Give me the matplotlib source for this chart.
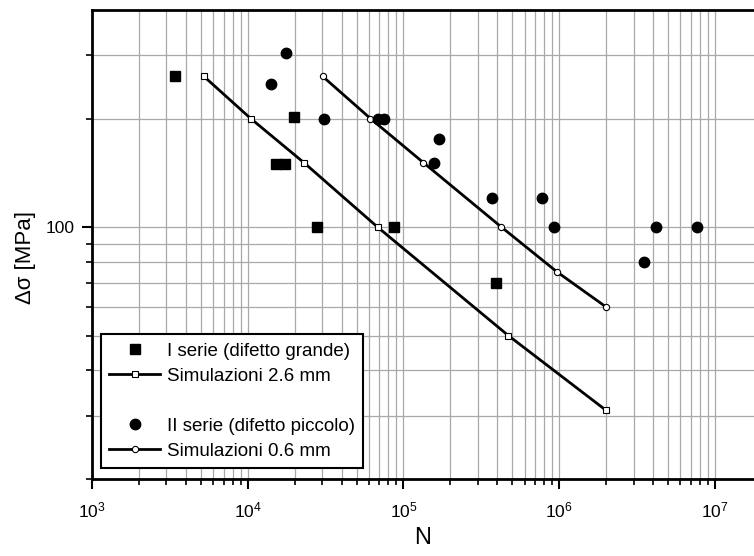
import matplotlib
matplotlib.use("Agg")
import matplotlib.pyplot as plt
from matplotlib.ticker import FixedLocator, NullFormatter, FuncFormatter, LogLocator
from matplotlib.lines import Line2D
import numpy as np

plt.rcParams['font.family'] = ['Liberation Sans', 'DejaVu Sans']
plt.rcParams['mathtext.default'] = 'regular'

# I serie (difetto grande)
n_serie1 = [3400, 19700, 15100, 17300, 27700, 87500, 394000]
s_serie1 = [263, 202, 150, 150, 100, 100, 70]

# II serie (difetto piccolo)
n_serie2 = [17500, 14200, 30700, 68100, 75500, 170000, 158000,
            372000, 778000, 929000, 4.19e6, 7.67e6, 3.51e6]
s_serie2 = [303, 250, 200, 200, 200, 176, 151, 120, 120, 100, 100, 100, 80]

# Simulazioni 2.6 mm
n_sim26 = [5220, 10450, 22900, 68100, 471000, 2.0e6]
s_sim26 = [262, 200, 151, 100, 50, 31]

# Simulazioni 0.6 mm
n_sim06 = [30200, 61400, 134000, 425000, 971000, 2.0e6]
s_sim06 = [262, 200, 151, 100, 75, 60]

fig = plt.figure(figsize=(7.54, 5.56), dpi=100)
ax = fig.add_axes([0.122, 0.1385, 0.878, 0.8435])

ax.plot(n_sim26, s_sim26, color='black', lw=2, marker='s', ms=4.5,
        mfc='white', mec='black', mew=0.8, zorder=3)
ax.plot(n_sim06, s_sim06, color='black', lw=2, marker='o', ms=4.5,
        mfc='white', mec='black', mew=0.8, zorder=3)
ax.plot(n_serie1, s_serie1, ls='none', marker='s', ms=7, color='black', zorder=4)
ax.plot(n_serie2, s_serie2, ls='none', marker='o', ms=7.5, color='black', zorder=4)

ax.set_xscale('log')
ax.set_yscale('log')
ax.set_xlim(1e3, 1.78e7)
ax.set_ylim(20, 400)

ax.yaxis.set_major_locator(FixedLocator([100]))
ax.yaxis.set_minor_locator(FixedLocator([20, 30, 40, 50, 60, 70, 80, 90, 200, 300]))
ax.yaxis.set_major_formatter(FuncFormatter(lambda v, p: '%d' % v))
ax.yaxis.set_minor_formatter(NullFormatter())

ax.xaxis.set_major_locator(LogLocator(base=10))
ax.xaxis.set_minor_locator(LogLocator(base=10, subs=np.arange(2, 10)))
ax.xaxis.set_major_formatter(FuncFormatter(lambda v, p: '$10^{%d}$' % round(np.log10(v))))
ax.xaxis.set_minor_formatter(NullFormatter())

ax.grid(True, which='both', color='#a8a8a8', lw=0.9)
ax.set_axisbelow(True)

for side in ['left', 'bottom', 'top']:
    ax.spines[side].set_linewidth(2)
ax.spines['right'].set_visible(False)

ax.tick_params(which='major', direction='out', length=7.5, width=1.5, labelsize=12.5, pad=5)
ax.tick_params(axis='x', which='major', pad=8)
ax.tick_params(which='minor', direction='out', length=4.5, width=1.2)

ax.set_xlabel('N', fontsize=17, labelpad=5)
ax.set_ylabel('Δσ [MPa]', fontsize=16)
ax.yaxis.set_label_coords(-0.085, 0.473)

handles = [
    Line2D([], [], ls='none', marker='s', ms=7, color='black'),
    Line2D([], [], color='black', lw=2, marker='s', ms=4.5, mfc='white', mec='black', mew=0.8),
    Line2D([], [], ls='none'),
    Line2D([], [], ls='none', marker='o', ms=7.5, color='black'),
    Line2D([], [], color='black', lw=2, marker='o', ms=4.5, mfc='white', mec='black', mew=0.8),
]
labels = ['I serie (difetto grande)', 'Simulazioni 2.6 mm', ' ',
          'II serie (difetto piccolo)', 'Simulazioni 0.6 mm']
leg = ax.legend(handles, labels, loc='lower left', bbox_to_anchor=(0.0136, 0.023),
                fontsize=13.5, frameon=True, fancybox=False, edgecolor='black',
                handlelength=2.7, handletextpad=0.35, borderpad=0.45, labelspacing=0.42,
                borderaxespad=0)
leg.get_frame().set_linewidth(1.5)
leg.get_frame().set_alpha(1)

fig.savefig('out.png', dpi=100)
